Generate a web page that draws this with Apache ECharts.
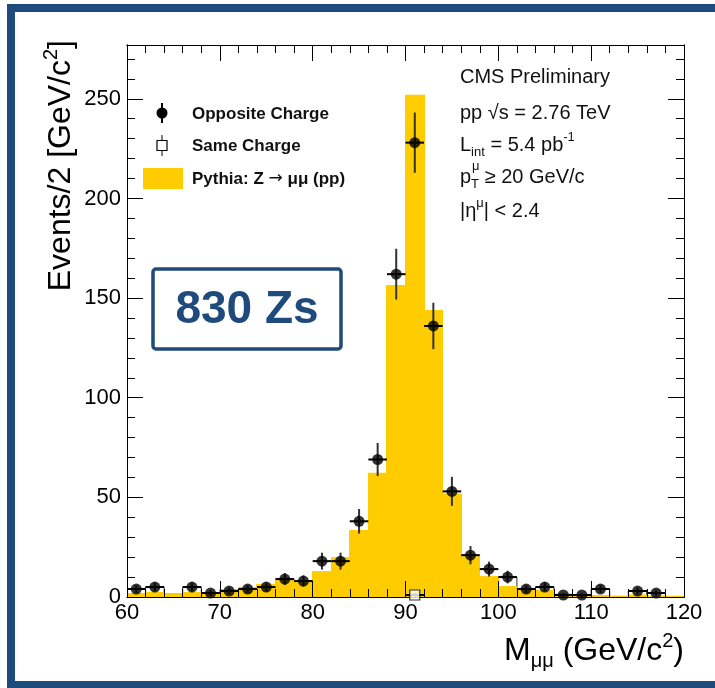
<!DOCTYPE html>
<html><head><meta charset="utf-8">
<script src="https://cdn.jsdelivr.net/npm/echarts@6/dist/echarts.min.js"></script>
<style>html,body{margin:0;padding:0;background:#fff}#c{width:715px;height:688px}</style>
</head><body><div id="c"></div>
<script>
// ---- data ----
const binCenters = [61,63,65,67,69,71,73,75,77,79,81,83,85,87,89,91,93,95,97,99,101,103,105,107,109,111,113,115,117,119];
const pythiaValues = [2,2.5,2,2.5,1.5,4,5,6.5,9,8.5,13,20,33.6,62.4,156.6,252,144,52,20.5,10.5,5.5,3.5,3.5,1.8,1.3,1,0.7,1.3,0.8,0.6];
const oppositeCharge = [4,5,0,5,2,3,4,5,9,8,18,18,38,69,162,228,136,53,21,14,10,4,5,1,1,4,0,3,2,0];
const sameChargeCenters = [91];
const sameChargeValues = [1];
const xTickLabels = ['60','70','80','90','100','110','120'];
const yTickLabels = ['0','50','100','150','200','250'];

const BIN_HALF = 1;
const OUTLINE_MAX = 10;
const FONT = '"Liberation Sans", Arial, Helvetica, sans-serif';
const BLUE = '#1F4A7C';
const YELLOW = '#FFCC00';

const chart = echarts.init(document.getElementById('c'));

const pythiaData = binCenters.map((c, i) => [c, pythiaValues[i]]);
const ocData = binCenters.map((c, i) => [c, oppositeCharge[i]]).filter(d => d[1] > 0);
const ocOutline = ocData.filter(d => d[1] <= OUTLINE_MAX);
const scData = sameChargeCenters.map((c, i) => [c, sameChargeValues[i]]);

function xAx(pos, interval, len, showLabel) {
  return {
    type: 'value', position: pos, min: 60, max: 120, interval: interval, z: 5,
    axisLine: {show: true, onZero: false, lineStyle: {color: '#000', width: 1}},
    axisTick: {show: true, inside: true, length: len, lineStyle: {color: '#000', width: 1}},
    splitLine: {show: false},
    axisLabel: {show: showLabel, fontSize: 22, color: '#000', fontFamily: FONT, margin: 5,
      formatter: v => xTickLabels.indexOf(String(v)) >= 0 ? String(v) : ''}
  };
}
function yAx(pos, interval, len, showLabel) {
  return {
    type: 'value', position: pos, min: 0, max: 277, interval: interval, z: 5,
    axisLine: {show: true, onZero: false, lineStyle: {color: '#000', width: 1}},
    axisTick: {show: true, inside: true, length: len, lineStyle: {color: '#000', width: 1}},
    splitLine: {show: false},
    axisLabel: {show: showLabel, fontSize: 22, color: '#000', fontFamily: FONT, margin: 6,
      formatter: v => yTickLabels.indexOf(String(v)) >= 0 ? String(v) : ''}
  };
}

function errRender(params, api) {
  const c = api.value(0), v = api.value(1);
  const e = Math.sqrt(v);
  const l = api.coord([c - BIN_HALF, v]);
  const r = api.coord([c + BIN_HALF, v]);
  const t = api.coord([c, v + e]);
  const b = api.coord([c, Math.max(0, v - e)]);
  return {type: 'group', children: [
    {type: 'line', shape: {x1: l[0], y1: l[1], x2: r[0], y2: r[1]}, style: {stroke: '#000', lineWidth: 2}},
    {type: 'line', shape: {x1: t[0], y1: t[1], x2: b[0], y2: b[1]}, style: {stroke: '#333', lineWidth: 2}}
  ]};
}

const txt = (size, extra) => Object.assign({fontSize: size, fontFamily: FONT, fill: '#111'}, extra || {});

const option = {
  backgroundColor: '#fff',
  animation: false,
  grid: {left: 127, right: 31, top: 45, bottom: 91},
  xAxis: [xAx('bottom', 2, 8, false), xAx('bottom', 10, 16, true), xAx('top', 2, 8, false), xAx('top', 10, 16, false)],
  yAxis: [yAx('left', 10, 8, false), yAx('left', 50, 16, true), yAx('right', 10, 8, false), yAx('right', 50, 16, false)],
  series: [
    { // data step boxes for the low-count bins (drawn under the Pythia fill)
      type: 'custom', name: 'Opposite Charge outline', xAxisIndex: 0, yAxisIndex: 0, z: 1, clip: true,
      data: ocOutline,
      renderItem(params, api) {
        const c = api.value(0), v = api.value(1);
        const p1 = api.coord([c - BIN_HALF, v]), p2 = api.coord([c + BIN_HALF, 0]);
        return {type: 'rect', shape: {x: p1[0], y: p1[1], width: p2[0] - p1[0], height: p2[1] - p1[1]},
          style: {fill: 'none', stroke: '#333', lineWidth: 1}};
      }
    },
    {
      type: 'custom', name: 'Pythia: Z \u2192 \u03bc\u03bc (pp)', xAxisIndex: 0, yAxisIndex: 0, z: 2, clip: true,
      data: pythiaData,
      renderItem(params, api) {
        const c = api.value(0), v = api.value(1);
        const p1 = api.coord([c - BIN_HALF, v]), p2 = api.coord([c + BIN_HALF, 0]);
        return {type: 'rect', shape: {x: Math.floor(p1[0]), y: p1[1], width: Math.ceil(p2[0]) - Math.floor(p1[0]), height: p2[1] - p1[1]},
          style: {fill: YELLOW}};
      }
    },
    {
      type: 'custom', name: 'Opposite Charge errors', xAxisIndex: 0, yAxisIndex: 0, z: 3, clip: true,
      data: ocData, renderItem: errRender
    },
    {
      type: 'scatter', name: 'Opposite Charge', xAxisIndex: 0, yAxisIndex: 0, z: 4,
      data: ocData, symbol: 'circle', symbolSize: 11, itemStyle: {color: '#000'}
    },
    {
      type: 'custom', name: 'Same Charge errors', xAxisIndex: 0, yAxisIndex: 0, z: 3, clip: true,
      data: scData, renderItem: errRender
    },
    {
      type: 'scatter', name: 'Same Charge', xAxisIndex: 0, yAxisIndex: 0, z: 6,
      data: scData, symbol: 'rect', symbolSize: 10,
      itemStyle: {color: '#fff', borderColor: '#000', borderWidth: 1.2}
    }
  ],
  graphic: [
    // outer blue frame
    {type: 'rect', shape: {x: 7, y: 4, width: 8, height: 684}, style: {fill: BLUE}, z: 100},
    {type: 'rect', shape: {x: 7, y: 4, width: 708, height: 8}, style: {fill: BLUE}, z: 100},
    {type: 'rect', shape: {x: 7, y: 681, width: 708, height: 7}, style: {fill: BLUE}, z: 100},
    // axis titles
    {type: 'text', x: 61, y: 40, rotation: Math.PI / 2, z: 100,
      style: {text: '{m|Events/2 [GeV/c}{u|2}{m|]}', align: 'right', verticalAlign: 'middle',
        rich: {m: txt(32, {lineHeight: 40, fill: '#000'}), u: txt(20, {lineHeight: 20, verticalAlign: 'top', fill: '#000'})}}},
    {type: 'text', x: 684, y: 651, z: 100,
      style: {text: '{m|M}{s|\u03bc\u03bc}{m| (GeV/c}{u|2}{m|)}', align: 'right', verticalAlign: 'middle',
        rich: {m: txt(32, {lineHeight: 40, fill: '#000'}),
               s: txt(20, {lineHeight: 20, verticalAlign: 'bottom', fill: '#000'}),
               u: txt(20, {lineHeight: 20, verticalAlign: 'top', fill: '#000'})}}},
    // legend
    {type: 'line', shape: {x1: 162, y1: 103, x2: 162, y2: 123}, style: {stroke: '#000', lineWidth: 2}, z: 100},
    {type: 'circle', shape: {cx: 162, cy: 113, r: 5.5}, style: {fill: '#000'}, z: 100},
    {type: 'text', x: 192, y: 114, z: 100, style: {text: 'Opposite Charge', font: 'bold 17px ' + FONT, fill: '#111', verticalAlign: 'middle'}},
    {type: 'line', shape: {x1: 162, y1: 135, x2: 162, y2: 156}, style: {stroke: '#000', lineWidth: 1}, z: 100},
    {type: 'rect', shape: {x: 157, y: 140.5, width: 10, height: 10}, style: {fill: '#fff', stroke: '#000', lineWidth: 1.2}, z: 101},
    {type: 'text', x: 192, y: 146, z: 100, style: {text: 'Same Charge', font: 'bold 17px ' + FONT, fill: '#111', verticalAlign: 'middle'}},
    {type: 'rect', shape: {x: 143, y: 168, width: 40, height: 21}, style: {fill: YELLOW}, z: 100},
    {type: 'text', x: 192, y: 179, z: 100, style: {text: '{b|Pythia: Z }{a|\u2192}{b| \u03bc\u03bc (pp)}', verticalAlign: 'middle',
      rich: {b: txt(17, {fontWeight: 'bold', lineHeight: 22}), a: {fontSize: 17, fontFamily: '"DejaVu Sans"', fill: '#111', lineHeight: 22}}}},
    // CMS text block
    {type: 'text', x: 460, y: 77, z: 100, style: {text: 'CMS Preliminary', font: '20px ' + FONT, fill: '#111', verticalAlign: 'middle'}},
    {type: 'text', x: 460, y: 113, z: 100, style: {text: 'pp \u221as = 2.76 TeV', font: '20px ' + FONT, fill: '#111', verticalAlign: 'middle'}},
    {type: 'text', x: 460, y: 145, z: 100, style: {text: '{n|L}{s|int}{n| = 5.4 pb}{u|-1}', verticalAlign: 'middle',
      rich: {n: txt(20, {lineHeight: 28}), s: txt(13, {lineHeight: 13, verticalAlign: 'bottom'}), u: txt(13, {lineHeight: 13, verticalAlign: 'top'})}}},
    {type: 'text', x: 460, y: 177, z: 100, style: {text: '{n|p}{s|T}{n| \u2265 20 GeV/c}', verticalAlign: 'middle',
      rich: {n: txt(20, {lineHeight: 28}), s: txt(13, {lineHeight: 13, verticalAlign: 'bottom'})}}},
    {type: 'text', x: 472, y: 166, z: 100, style: {text: '\u03bc', font: '13px ' + FONT, fill: '#111', verticalAlign: 'middle'}},
    {type: 'text', x: 460, y: 211, z: 100, style: {text: '{n||\u03b7}{u|\u03bc}{n|| < 2.4}', verticalAlign: 'middle',
      rich: {n: txt(20, {lineHeight: 28}), u: txt(13, {lineHeight: 13, verticalAlign: 'top'})}}},
    // 830 Zs box
    {type: 'rect', shape: {x: 153, y: 269, width: 188, height: 80, r: 3}, style: {fill: '#fff', stroke: BLUE, lineWidth: 3.5}, z: 100},
    {type: 'text', x: 247, y: 310, z: 101, style: {text: '830 Zs', font: 'bold 46px ' + FONT, fill: BLUE, align: 'center', verticalAlign: 'middle'}}
  ]
};
chart.setOption(option);
</script>
</body></html>
